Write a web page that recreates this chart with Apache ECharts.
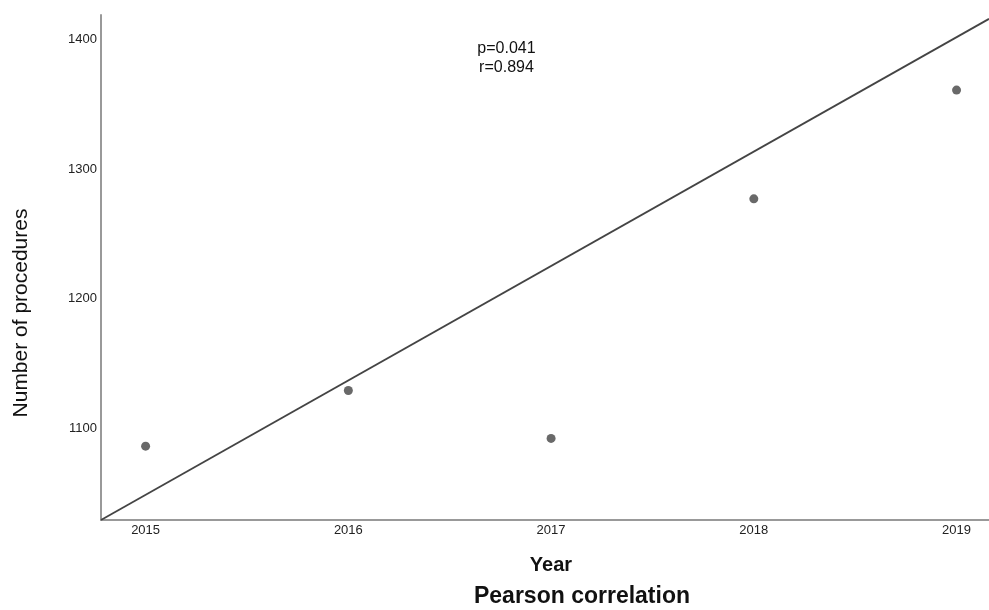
<!DOCTYPE html>
<html><head><meta charset="utf-8">
<script src="https://cdn.jsdelivr.net/npm/echarts@6/dist/echarts.min.js"></script>
<style>html,body{margin:0;padding:0;background:#fff}#c{width:989px;height:610px}</style>
</head><body><div id="c"></div>
<script>
const years = [2015, 2016, 2017, 2018, 2019];
const procedures = [1086, 1129, 1092, 1277, 1361];
const fitLine = [[2014.78, 1029], [2019.16, 1416]];
const xTicks = [2015, 2016, 2017, 2018, 2019];
const yTicks = [1100, 1200, 1300, 1400];
const annotation = ['p=0.041', 'r=0.894'];

const FONT = 'Liberation Sans, Arial, sans-serif';
const chart = echarts.init(document.getElementById('c'));
chart.setOption({
  animation: false,
  backgroundColor: '#fff',
  textStyle: { fontFamily: FONT },
  grid: { left: 101, right: 0, top: 15, bottom: 90, containLabel: false },
  xAxis: {
    type: 'value', min: 2014.78, max: 2019.16,
    axisLine: { show: true, lineStyle: { color: '#999', width: 2 } },
    axisTick: { show: false },
    splitLine: { show: false },
    axisLabel: { customValues: xTicks, fontSize: 13, color: '#222', margin: 4, formatter: v => String(v) }
  },
  yAxis: {
    type: 'value', min: 1029, max: 1419,
    axisLine: { show: true, lineStyle: { color: '#999', width: 2 } },
    axisTick: { show: false },
    splitLine: { show: false },
    axisLabel: { customValues: yTicks, fontSize: 13, color: '#222', margin: 4, formatter: v => String(v) }
  },
  graphic: [
    { type: 'text', x: 551, y: 565, style: { text: 'Year', font: 'bold 20px ' + FONT, fill: '#111', align: 'center', verticalAlign: 'middle' } },
    { type: 'text', x: 582, y: 597, style: { text: 'Pearson correlation', font: 'bold 23px ' + FONT, fill: '#111', align: 'center', verticalAlign: 'middle' } },
    { type: 'text', x: 21, y: 313, rotation: Math.PI / 2, style: { text: 'Number of procedures', font: '21px ' + FONT, fill: '#111', align: 'center', verticalAlign: 'middle' } }
  ],
  series: [
    {
      type: 'line', data: fitLine, symbol: 'none', silent: true,
      lineStyle: { color: '#444', width: 1.8 }, z: 2
    },
    {
      type: 'scatter', data: years.map((y, i) => [y, procedures[i]]),
      symbolSize: 9, itemStyle: { color: '#444' }, z: 3
    },
    {
      type: 'scatter', data: [],
      markPoint: {
        symbol: 'rect', symbolSize: 1, itemStyle: { color: 'transparent' },
        label: { show: true, color: '#111', fontSize: 16, lineHeight: 19, formatter: annotation.join('\n'), position: 'inside' },
        data: [{ coord: [2016.78, 1386] }]
      }
    }
  ]
});
</script></body></html>
